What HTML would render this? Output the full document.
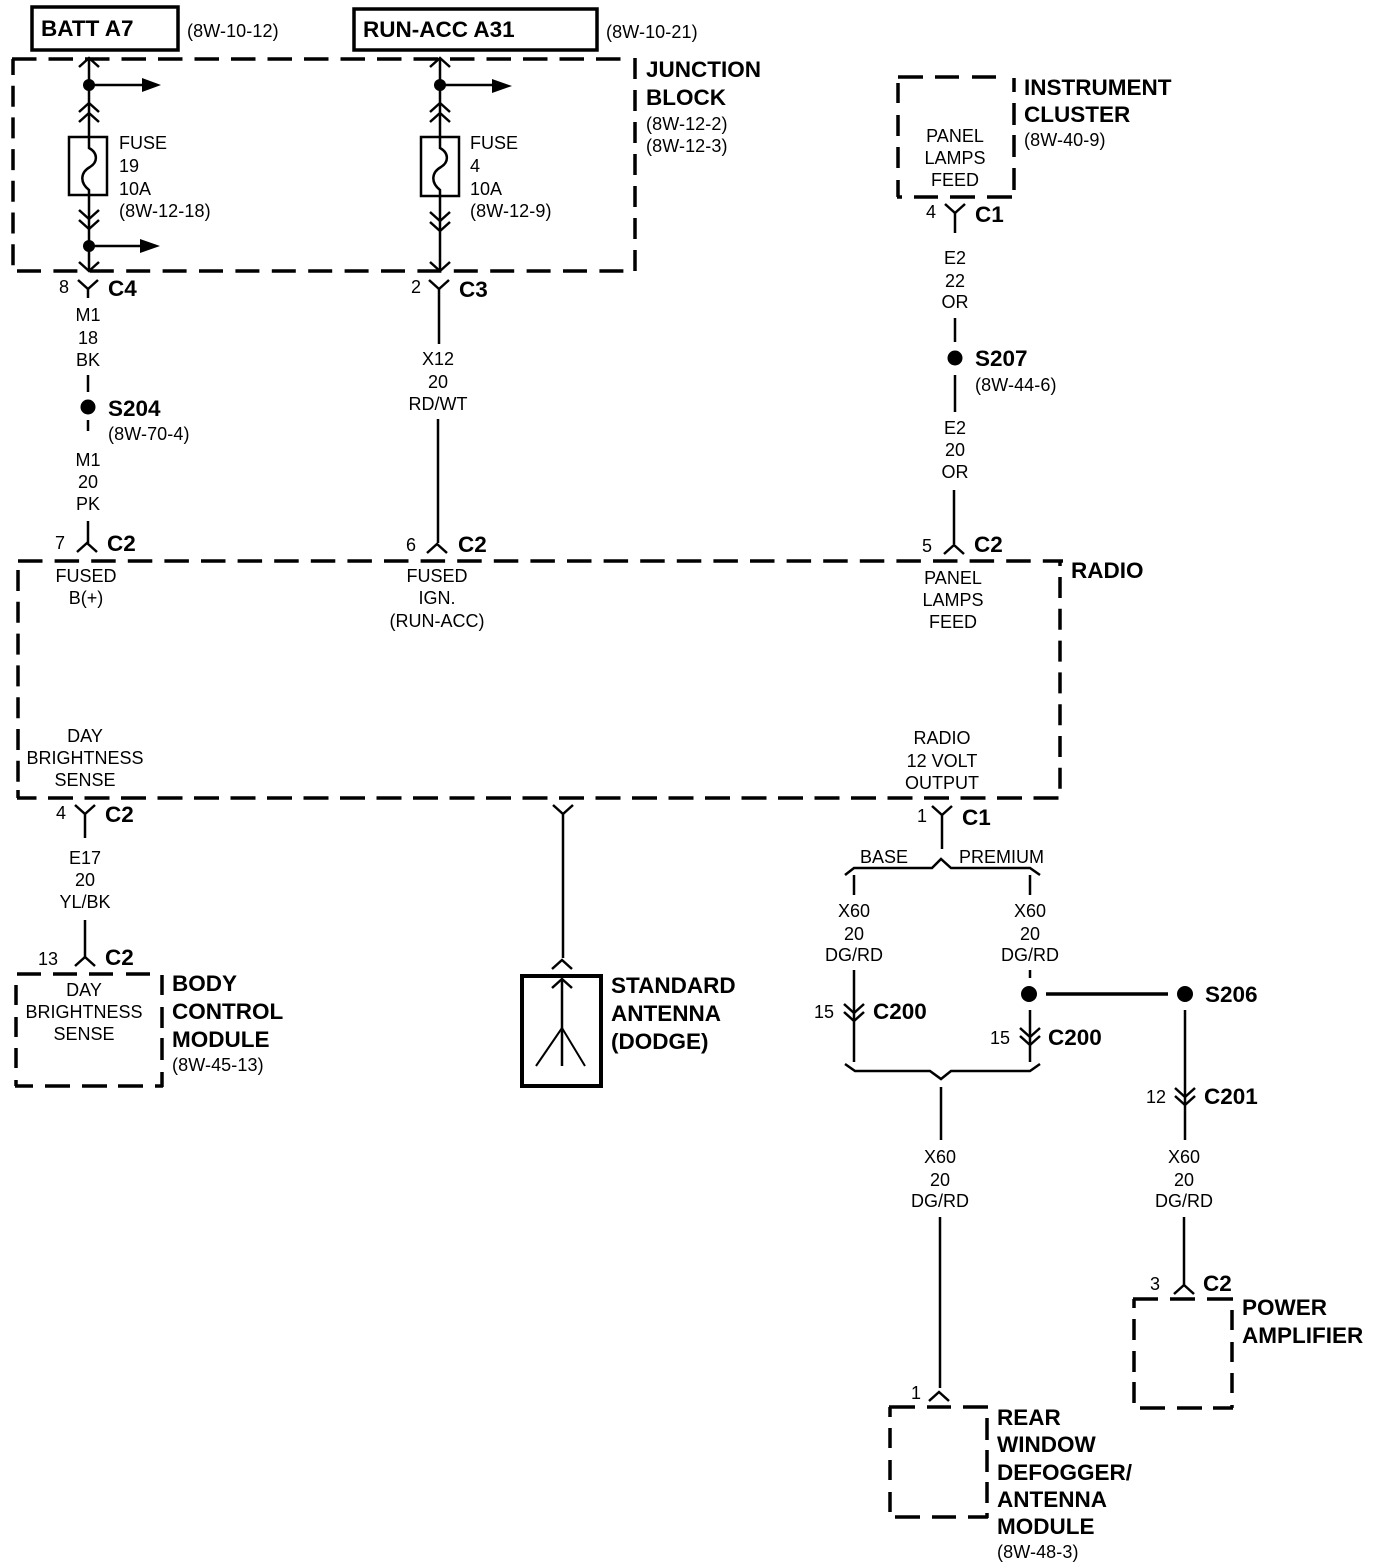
<!DOCTYPE html>
<html><head><meta charset="utf-8"><style>
html,body{margin:0;padding:0;background:#fff}
svg{display:block}
text{font-family:"Liberation Sans",sans-serif;fill:#000;font-size:18px}
.b{font-weight:bold;font-size:22.5px}
.m{text-anchor:middle}
.r{letter-spacing:.1px}
.w{fill:none;stroke:#000;stroke-width:2.5}
.d{fill:none;stroke:#000;stroke-width:3.5}
</style></head><body>
<svg width="1376" height="1568" viewBox="0 0 1376 1568" xmlns="http://www.w3.org/2000/svg">
<defs>
<path id="u" d="M-10 9L0 0L10 9" fill="none" stroke="#000" stroke-width="2.5"/>
<path id="v" d="M-10 -9L0 0L10 -9" fill="none" stroke="#000" stroke-width="2.5"/>
</defs>

<!-- top boxes -->
<rect x="32" y="7" width="146" height="43" fill="none" stroke="#000" stroke-width="3.5"/>
<text class="b" x="41" y="36">BATT A7</text>
<text class="r" x="187" y="37">(8W-10-12)</text>
<rect x="354" y="9" width="243" height="41" fill="none" stroke="#000" stroke-width="3.5"/>
<text class="b" x="363" y="37">RUN-ACC A31</text>
<text class="r" x="606" y="38">(8W-10-21)</text>

<!-- junction block -->
<path class="d" stroke-dasharray="24.5 12" d="M12 59H622"/>
<path class="d" stroke-dasharray="24 12.4" d="M17 271H626"/>
<path class="d" stroke-dasharray="21 10.7" stroke-dashoffset="5" d="M13 59V268"/>
<path class="d" stroke-dasharray="21 11" d="M635 58V272"/>
<text class="b" x="646" y="77">JUNCTION</text>
<text class="b" x="646" y="105">BLOCK</text>
<text class="r" x="646" y="130">(8W-12-2)</text>
<text class="r" x="646" y="152">(8W-12-3)</text>

<!-- fuse 19 -->
<path class="w" d="M89 58V148C98 153 98 162 90 167C81 172 79 182 89 190V271"/>
<use href="#u" x="89" y="58"/><use href="#u" x="89" y="103"/><use href="#u" x="89" y="113"/>
<circle cx="89" cy="85" r="6"/><path class="w" d="M89 85H145"/><path d="M142 78L161 85L142 92Z"/>
<rect x="69" y="137" width="38" height="58" fill="none" stroke="#000" stroke-width="2.5"/>
<use href="#v" x="89" y="219"/><use href="#v" x="89" y="229"/>
<circle cx="89" cy="246" r="6"/><path class="w" d="M89 246H143"/><path d="M140 239L160 246L140 253Z"/>
<use href="#v" x="89" y="271"/>
<text x="119" y="149">FUSE</text><text x="119" y="172">19</text><text x="119" y="195">10A</text><text class="r" x="119" y="217">(8W-12-18)</text>

<!-- fuse 4 -->
<path class="w" d="M440 58V148C449 153 449 162 441 167C432 172 430 182 440 190V271"/>
<use href="#u" x="440" y="58"/><use href="#u" x="440" y="103"/><use href="#u" x="440" y="113"/>
<circle cx="440" cy="85" r="6"/><path class="w" d="M440 85H496"/><path d="M492 79L512 86L492 93Z"/>
<rect x="421" y="137" width="38" height="59" fill="none" stroke="#000" stroke-width="2.5"/>
<use href="#v" x="440" y="221"/><use href="#v" x="440" y="231"/>
<use href="#v" x="440" y="271"/>
<text x="470" y="149">FUSE</text><text x="470" y="172">4</text><text x="470" y="195">10A</text><text class="r" x="470" y="217">(8W-12-9)</text>

<!-- left wire -->
<use href="#v" x="88" y="289"/><path class="w" d="M88 289V298M88 375V392M88 420V431M88 521V543"/>
<text x="59" y="293">8</text><text class="b" x="108" y="296">C4</text>
<text class="m" x="88" y="321">M1</text><text class="m" x="88" y="344">18</text><text class="m" x="88" y="366">BK</text>
<circle cx="88" cy="407" r="7.5"/>
<text class="b" x="108" y="416">S204</text><text class="r" x="108" y="440">(8W-70-4)</text>
<text class="m" x="88" y="466">M1</text><text class="m" x="88" y="488">20</text><text class="m" x="88" y="510">PK</text>
<use href="#u" x="87" y="543"/>
<text x="55" y="549">7</text><text class="b" x="107" y="551">C2</text>

<!-- center wire -->
<use href="#v" x="439" y="289"/><path class="w" d="M439 289V344M438 419V543"/>
<text x="411" y="293">2</text><text class="b" x="459" y="297">C3</text>
<text class="m" x="438" y="365">X12</text><text class="m" x="438" y="388">20</text><text class="m" x="438" y="410">RD/WT</text>
<use href="#u" x="437" y="544"/>
<text x="406" y="551">6</text><text class="b" x="458" y="552">C2</text>

<!-- instrument cluster -->
<path class="d" d="M898 77H923M935 77H959M972 77H996M1014 78V92M1014 103V125M1014 135V157M1014 168V190M898 83V103M898 115V136M898 147V168M898 180V197M897 197H902M914 197H938M950 197H975M987 197H1012"/>
<text class="b" x="1024" y="95">INSTRUMENT</text><text class="b" x="1024" y="122">CLUSTER</text>
<text class="r" x="1024" y="146">(8W-40-9)</text>
<text class="m" x="955" y="142">PANEL</text><text class="m" x="955" y="164">LAMPS</text><text class="m" x="955" y="186">FEED</text>
<use href="#v" x="955" y="213"/><path class="w" d="M955 213V233M955 318V342M955 375V412M954 490V544"/>
<text x="926" y="218">4</text><text class="b" x="975" y="222">C1</text>
<text class="m" x="955" y="264">E2</text><text class="m" x="955" y="287">22</text><text class="m" x="955" y="308">OR</text>
<circle cx="955" cy="358" r="7.5"/>
<text class="b" x="975" y="366">S207</text><text class="r" x="975" y="391">(8W-44-6)</text>
<text class="m" x="955" y="434">E2</text><text class="m" x="955" y="456">20</text><text class="m" x="955" y="478">OR</text>
<use href="#u" x="954" y="545"/>
<text x="922" y="552">5</text><text class="b" x="974" y="552">C2</text>

<!-- radio -->
<path class="d" stroke-dasharray="24.5 12.1" d="M18 561H1063"/>
<path class="d" stroke-dasharray="25 11.5" stroke-dashoffset="5.5" d="M17 798H1061"/>
<path class="d" stroke-dasharray="21 10.8" d="M18 570V783"/>
<path class="d" d="M18 790V798"/>
<path class="d" stroke-dasharray="21 10.8" d="M1060 577V790"/>
<path class="d" d="M1060 561V566"/>
<text class="b" x="1071" y="578">RADIO</text>
<text class="m" x="86" y="582">FUSED</text><text class="m" x="86" y="604">B(+)</text>
<text class="m" x="437" y="582">FUSED</text><text class="m" x="437" y="604">IGN.</text><text class="m" x="437" y="627">(RUN-ACC)</text>
<text class="m" x="953" y="584">PANEL</text><text class="m" x="953" y="606">LAMPS</text><text class="m" x="953" y="628">FEED</text>
<text class="m" x="85" y="742">DAY</text><text class="m" x="85" y="764">BRIGHTNESS</text><text class="m" x="85" y="786">SENSE</text>
<text class="m" x="942" y="744">RADIO</text><text class="m" x="942" y="767">12 VOLT</text><text class="m" x="942" y="789">OUTPUT</text>

<!-- day brightness wire -->
<use href="#v" x="85" y="814"/><path class="w" d="M85 814V838M85 920V957"/>
<text x="56" y="819">4</text><text class="b" x="105" y="822">C2</text>
<text class="m" x="85" y="864">E17</text><text class="m" x="85" y="886">20</text><text class="m" x="85" y="908">YL/BK</text>
<use href="#u" x="85" y="957"/>
<text x="38" y="965">13</text><text class="b" x="105" y="965">C2</text>

<!-- BCM -->
<path class="d" d="M17 974H41M53 974H77M89 974H113M126 974H150M162 975V995M162 1007V1028M162 1038V1060M162 1072V1087M16 985V1005M16 1017V1037M16 1048V1068M16 1080V1086M15 1086H33M45 1086H70M82 1086H107M118 1086H143M155 1086H163"/>
<text class="m" x="84" y="996">DAY</text><text class="m" x="84" y="1018">BRIGHTNESS</text><text class="m" x="84" y="1040">SENSE</text>
<text class="b" x="172" y="991">BODY</text><text class="b" x="172" y="1019">CONTROL</text><text class="b" x="172" y="1047">MODULE</text>
<text class="r" x="172" y="1071">(8W-45-13)</text>

<!-- antenna -->
<use href="#v" x="563" y="814"/><path class="w" d="M563 814V958"/>
<use href="#u" x="562" y="960"/>
<rect x="522" y="976" width="79" height="110" fill="none" stroke="#000" stroke-width="4"/>
<use href="#u" x="562" y="979"/><path class="w" d="M562 979V1066"/>
<path d="M562 1028L536 1066M562 1028L585 1066" fill="none" stroke="#000" stroke-width="2"/>
<text class="b" x="611" y="993">STANDARD</text><text class="b" x="611" y="1021">ANTENNA</text><text class="b" x="611" y="1049">(DODGE)</text>

<!-- radio output -->
<use href="#v" x="942" y="815"/><path class="w" d="M942 815V849"/>
<text x="917" y="822">1</text><text class="b" x="962" y="825">C1</text>
<text x="860" y="863">BASE</text><text x="959" y="863">PREMIUM</text>
<path class="w" d="M845 875L854 868H932L941 859L951 868H1030L1040 875"/>
<path class="w" d="M854 875V895M1030 875V895M854 970V1062M1030 970V978M1030 1010V1062"/>
<text class="m" x="854" y="917">X60</text><text class="m" x="854" y="940">20</text><text class="m" x="854" y="961">DG/RD</text>
<text class="m" x="1030" y="917">X60</text><text class="m" x="1030" y="940">20</text><text class="m" x="1030" y="961">DG/RD</text>
<use href="#v" x="854" y="1013"/><use href="#v" x="854" y="1021"/>
<text x="814" y="1018">15</text><text class="b" x="873" y="1019">C200</text>
<circle cx="1029" cy="994" r="8"/>
<path d="M1046 994H1168" stroke="#000" stroke-width="3.5"/>
<circle cx="1185" cy="994" r="8"/>
<text class="b" x="1205" y="1002">S206</text>
<use href="#v" x="1030" y="1037"/><use href="#v" x="1030" y="1045"/>
<text x="990" y="1044">15</text><text class="b" x="1048" y="1045">C200</text>
<path class="w" d="M845 1064L855 1071H930L941 1079L951 1071H1030L1040 1064"/>
<path class="w" d="M941 1087V1140M940 1217V1388"/>
<text class="m" x="940" y="1163">X60</text><text class="m" x="940" y="1186">20</text><text class="m" x="940" y="1207">DG/RD</text>
<use href="#u" x="939" y="1392"/>
<text x="911" y="1399">1</text>

<!-- S206 branch -->
<path class="w" d="M1185 1010V1140M1184 1217V1285"/>
<use href="#v" x="1185" y="1097"/><use href="#v" x="1185" y="1105"/>
<text x="1146" y="1103">12</text><text class="b" x="1204" y="1104">C201</text>
<text class="m" x="1184" y="1163">X60</text><text class="m" x="1184" y="1186">20</text><text class="m" x="1184" y="1207">DG/RD</text>
<use href="#u" x="1184" y="1285"/>
<text x="1150" y="1290">3</text><text class="b" x="1203" y="1291">C2</text>

<path class="d" d="M1133 1299H1158M1170 1299H1195M1207 1299H1233M1232 1310V1330M1232 1342V1362M1232 1373V1393M1232 1405V1408M1134 1299V1308M1134 1319V1340M1134 1351V1372M1134 1382V1403M1140 1408H1165M1177 1408H1202M1213 1408H1233"/>
<text class="b" x="1242" y="1315">POWER</text><text class="b" x="1242" y="1343">AMPLIFIER</text>

<path class="d" d="M889 1407H915M927 1407H951M963 1407H988M987 1418V1440M987 1450V1472M987 1482V1503M987 1513V1518M890 1407V1417M890 1428V1448M890 1460V1480M890 1492V1512M895 1517H920M932 1517H956M968 1517H988"/>
<text class="b" x="997" y="1425">REAR</text><text class="b" x="997" y="1452">WINDOW</text><text class="b" x="997" y="1480">DEFOGGER/</text><text class="b" x="997" y="1507">ANTENNA</text><text class="b" x="997" y="1534">MODULE</text>
<text class="r" x="997" y="1558">(8W-48-3)</text>
</svg>
</body></html>
